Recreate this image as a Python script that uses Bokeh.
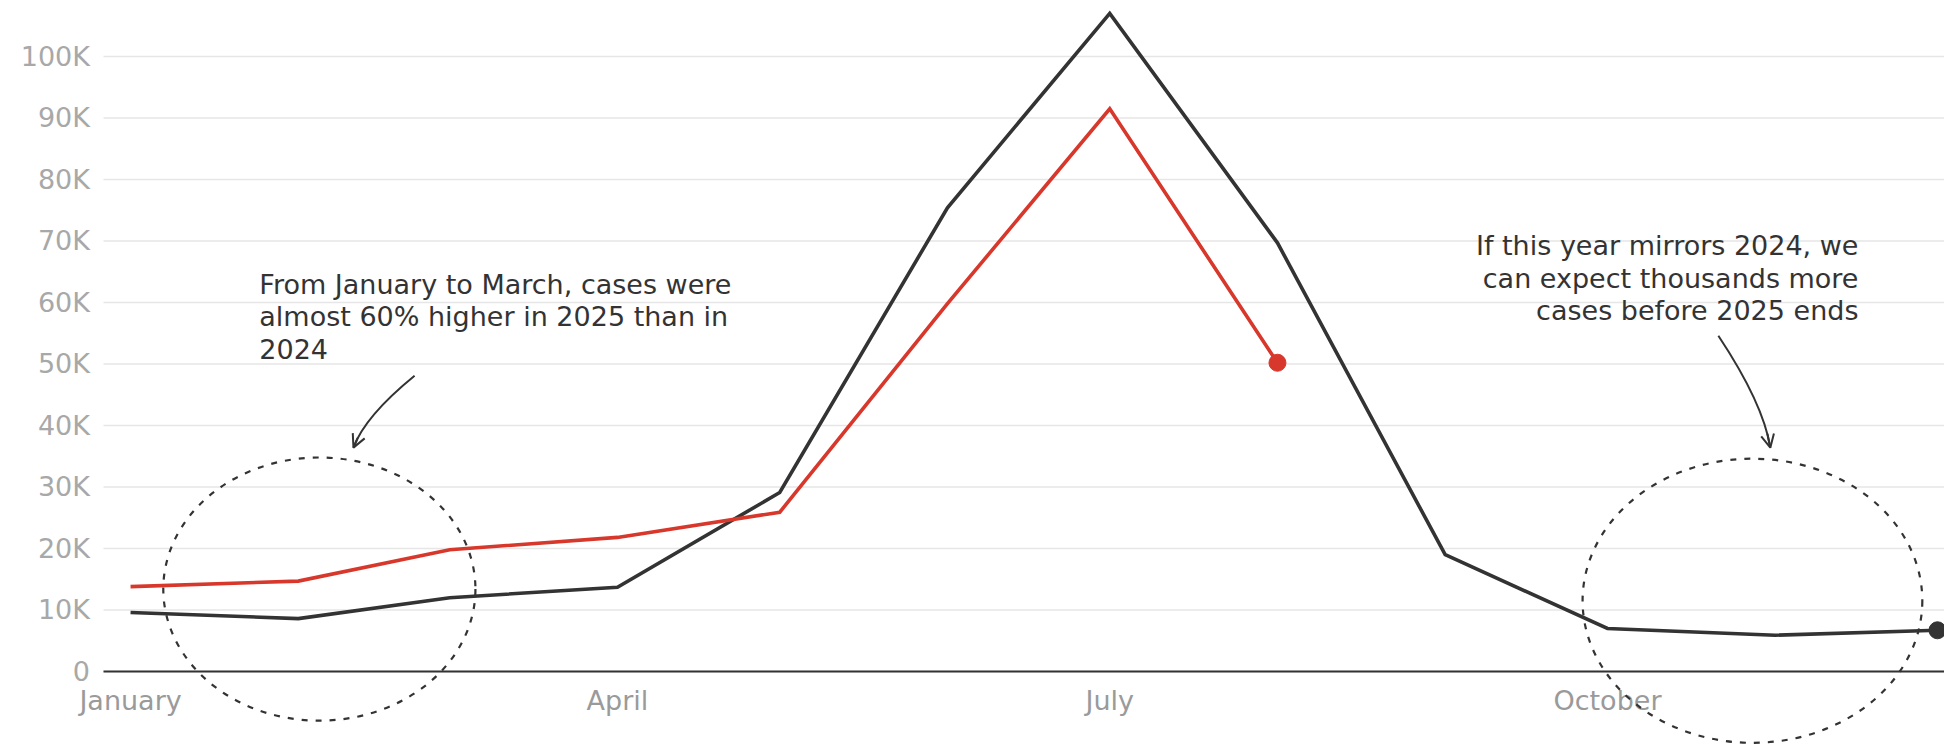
from datetime import date
from bokeh.plotting import figure
from bokeh.models import Span, Arrow, OpenHead
from bokeh.core.properties import value
from bokeh.embed import file_html
from bokeh.resources import INLINE

# ---------------- data ----------------
months = list(range(1, 13))
cases_2024 = [9600, 8600, 12000, 13700, 29100, 75400, 107000, 69700, 19000, 7000, 5900, 6700]
months_2025 = list(range(1, 9))
cases_2025 = [13800, 14700, 19800, 21800, 25900, 59800, 91500, 50200]

y_ticks = [0, 10000, 20000, 30000, 40000, 50000, 60000, 70000, 80000, 90000, 100000]
y_tick_labels = ["0", "10K", "20K", "30K", "40K", "50K", "60K", "70K", "80K", "90K", "100K"]
x_label_months = [1, 4, 7, 10]
x_labels = ["January", "April", "July", "October"]

note_left = ["From January to March, cases were",
             "almost 60% higher in 2025 than in",
             "2024"]
note_right = ["If this year mirrors 2024, we",
              "can expect thousands more",
              "cases before 2025 ends"]


def day_of_year(m):
    return (date(2025, m, 1) - date(2025, 1, 1)).days


x24 = [day_of_year(m) for m in months]
x25 = [day_of_year(m) for m in months_2025]

FONT = "DejaVu Sans"
FS = "27px"
DARK = "#333333"
RED = "#d7382b"

X_START, X_END = -24.04, 335.3
GRID_START = -5.0
LABEL_X = -7.5

p = figure(width=1944, height=744, output_backend="svg", toolbar_location=None,
           x_range=(X_START, X_END), y_range=(-11870, 109100),
           x_axis_type=None, y_axis_type=None,
           min_border_left=0, min_border_right=0,
           min_border_top=0, min_border_bottom=0)
p.outline_line_color = None
p.background_fill_color = "white"
p.border_fill_color = "white"

# horizontal grid lines and y tick labels
p.segment(x0=[GRID_START] * len(y_ticks), x1=[X_END] * len(y_ticks), y0=y_ticks, y1=y_ticks,
          line_color="#e6e6e6", line_width=1.5)
p.text(x=[LABEL_X] * len(y_ticks), y=y_ticks, text=y_tick_labels,
       text_font=value(FONT), text_font_size=FS, text_color="#a8a8a8",
       text_align="right", text_baseline="middle")

# zero line
p.segment(x0=[GRID_START], x1=[X_END], y0=[0], y1=[0], line_color=DARK, line_width=2.2)

# month labels
p.text(x=[day_of_year(m) for m in x_label_months], y=[-4700] * len(x_labels), text=x_labels,
       text_font=value(FONT), text_font_size=FS, text_color="#9a9a9a",
       text_align="center", text_baseline="middle")

# dashed circles
p.ellipse(x=[34.9, 299.8], y=[13400, 11500], width=[57.7, 62.8], height=[42800, 46200],
          fill_color=None, line_color=DARK, line_width=2.2, line_dash="6 8")

# series
p.line(x24, cases_2024, line_color=DARK, line_width=3.6, line_join="miter")
p.line(x25, cases_2025, line_color=RED, line_width=3.6, line_join="miter")
p.scatter([x24[-1]], [cases_2024[-1]], size=17, color=DARK)
p.scatter([x25[-1]], [cases_2025[-1]], size=17, color=RED)

# annotation texts
line_step = 5250
for i, t in enumerate(note_left):
    p.text(x=[23.8], y=[62900 - i * line_step], text=[t], text_font=value(FONT),
           text_font_size=FS, text_color=DARK, text_align="left",
           text_baseline="alphabetic")
for i, t in enumerate(note_right):
    p.text(x=[319.4], y=[69200 - i * line_step], text=[t], text_font=value(FONT),
           text_font_size=FS, text_color=DARK, text_align="right",
           text_baseline="alphabetic")

# curved arrows
arrows = [((52.5, 48100), (43.3, 41500), (41.2, 36400)),
          ((293.5, 54600), (301.8, 43600), (303.1, 36400))]
for (sx, sy), (cx, cy), (ex, ey) in arrows:
    p.quadratic(x0=[sx], y0=[sy], x1=[ex], y1=[ey], cx=[cx], cy=[cy],
                line_color=DARK, line_width=2)
    t = 0.85
    bx = (1 - t) ** 2 * sx + 2 * (1 - t) * t * cx + t ** 2 * ex
    by = (1 - t) ** 2 * sy + 2 * (1 - t) * t * cy + t ** 2 * ey
    p.add_layout(Arrow(end=OpenHead(size=13, line_color=DARK, line_width=2),
                       x_start=bx, y_start=by, x_end=ex, y_end=ey,
                       line_color=DARK, line_width=2))

open("out.html", "w").write(file_html(p, INLINE))
